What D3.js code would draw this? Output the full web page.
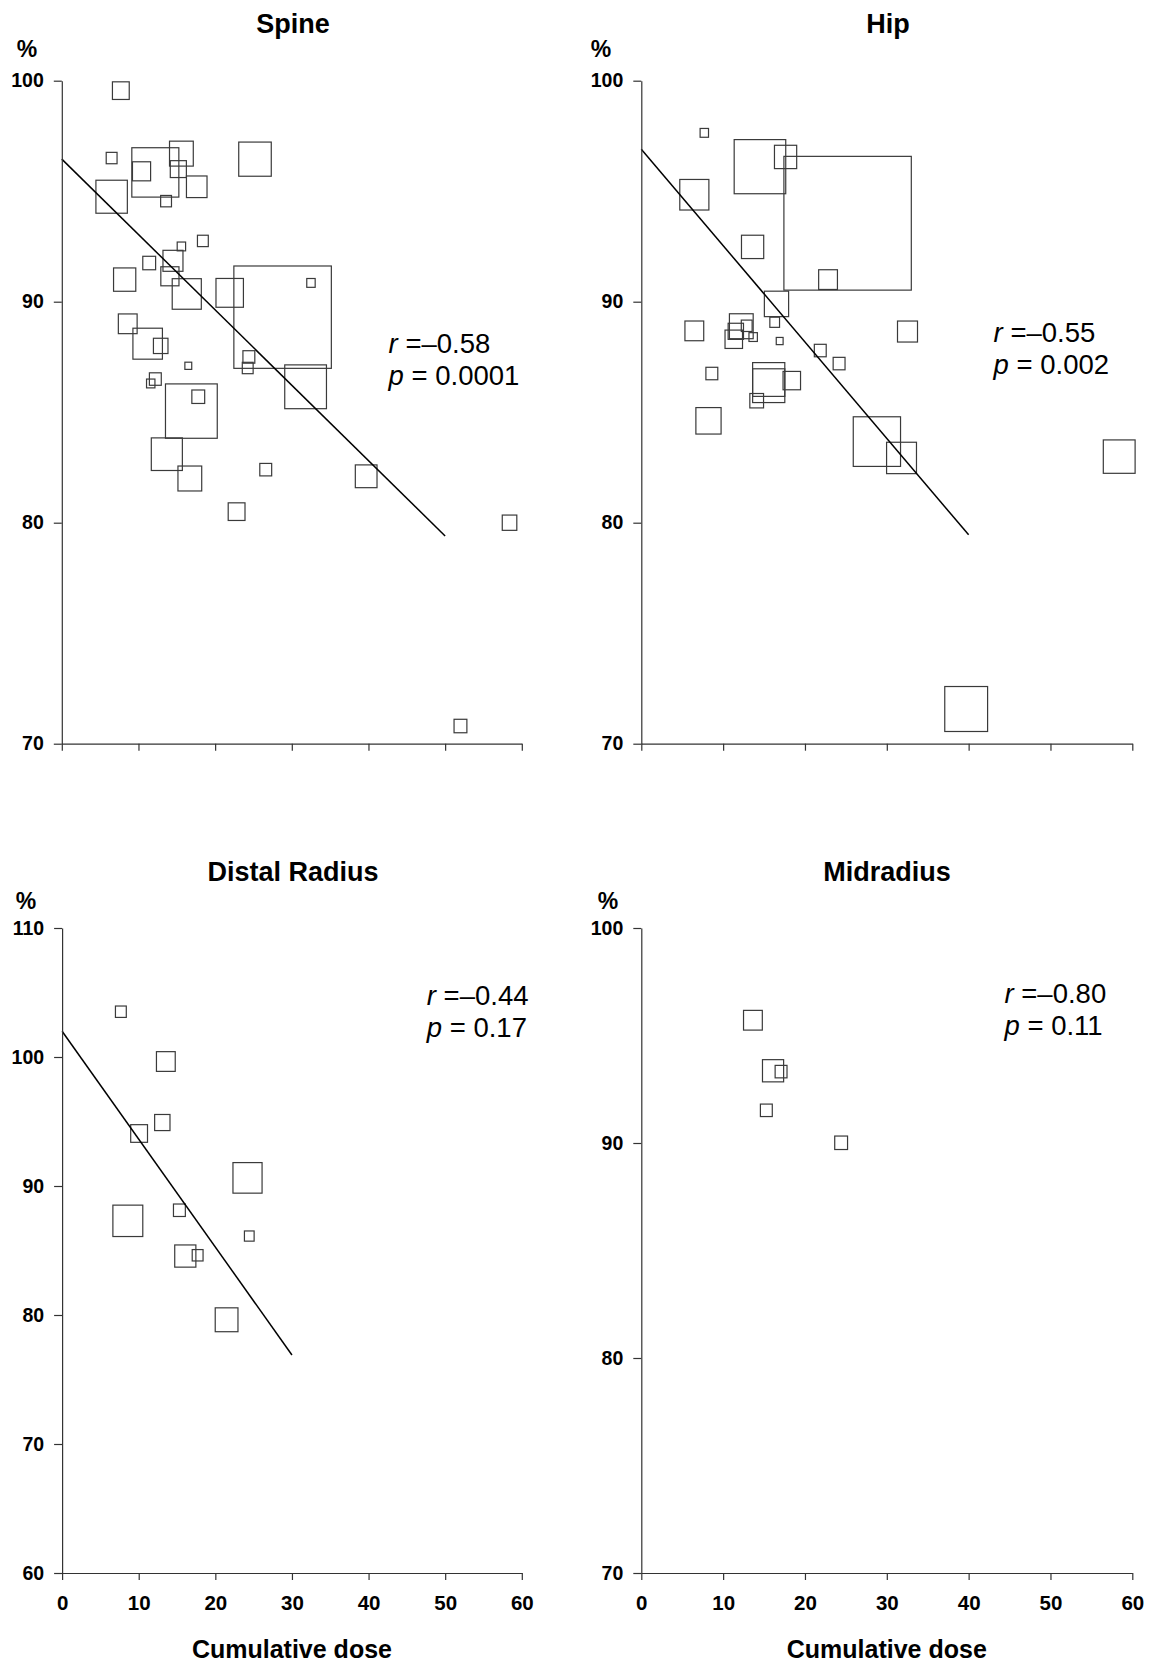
<!DOCTYPE html>
<html>
<head>
<meta charset="utf-8">
<script src="https://cdn.jsdelivr.net/npm/d3@7/dist/d3.min.js"></script>
<style>
  html, body { margin: 0; padding: 0; background: #fff; }
  svg { display: block; }
  text { font-family: "Liberation Sans", Arial, Helvetica, sans-serif; fill: #000; }
</style>
</head>
<body>
<svg id="chart" width="1149" height="1666"></svg>
<script>
// ---------------- DATA ----------------
const panelTitles = ["Spine", "Hip", "Distal Radius", "Midradius"];
const xTicks = [0, 10, 20, 30, 40, 50, 60];

// Spine
const spineDose = [7.7, 6.5, 12.2, 15.6, 10.4, 15.2, 17.6, 6.5, 13.6, 25.2,
  18.4, 15.6, 11.4, 14.5, 14.1, 8.2, 16.3, 21.9, 28.8, 32.5,
  8.6, 11.2, 12.9, 24.4, 24.25, 16.5, 12.2, 11.6, 16.9, 17.8,
  31.8, 13.7, 16.7, 26.6, 22.8, 39.7, 58.4, 52.0];
const spineBMD = [99.55, 96.5, 95.85, 96.7, 95.9, 96.0, 95.2, 94.75, 94.55, 96.45,
  92.75, 92.5, 91.75, 91.85, 91.15, 91.0, 90.35, 90.4, 89.3, 90.85,
  89.0, 88.1, 88.0, 87.5, 87.0, 87.1, 86.5, 86.3, 85.05, 85.7,
  86.15, 83.1, 82.0, 82.4, 80.5, 82.1, 80.0, 70.8];
const spineN = [12, 5, 94, 24, 14, 11, 18, 42, 5, 45,
  5, 3, 7, 17, 14, 21, 36, 32, 404, 3,
  15, 37, 9, 6, 5, 2, 6, 3, 114, 7,
  74, 41, 24, 6, 12, 20, 9, 7];
const spineYTicks = [70, 80, 90, 100];
const spineFit = [[0, 96.45], [50, 79.4]];
const spineStats = ["\u2013", "0.58", "0.0001"];

// Hip
const hipDose = [7.7, 14.5, 17.63, 25.21, 6.48, 13.6, 22.82, 16.52, 6.48, 12.22,
  11.55, 12.88, 11.3, 13.67, 16.3, 16.91, 32.53, 21.87, 24.17, 8.62,
  15.57, 15.57, 18.39, 14.1, 8.21, 28.79, 31.8, 58.4, 39.7];
const hipBMD = [97.64, 96.11, 96.55, 93.55, 94.84, 92.48, 91.0, 89.9, 88.68, 88.89,
  88.66, 88.91, 88.3, 88.4, 89.07, 88.22, 88.65, 87.79, 87.2, 86.75,
  86.48, 86.2, 86.43, 85.52, 84.61, 83.67, 82.93, 82.99, 71.57];
const hipN = [3, 113, 21, 690, 36, 21, 15, 25, 15, 24,
  10, 5, 13, 3, 4, 2, 17, 6, 6, 6,
  44, 44, 13, 8, 27, 95, 38, 43, 78];
const hipYTicks = [70, 80, 90, 100];
const hipFit = [[0, 96.9], [40, 79.45]];
const hipStats = ["\u2013", "0.55", "0.002"];

// Distal radius
const distalDose = [7.67, 13.54, 13.08, 10.05, 24.2, 8.58, 15.31, 24.43, 16.08, 17.69, 21.47];
const distalBMD = [103.51, 99.65, 94.92, 94.07, 90.63, 87.3, 88.12, 86.12, 84.57, 84.63, 79.63];
const distalN = [5, 15, 10, 12, 36, 38, 6, 4, 19, 5, 22];
const distalYTicks = [60, 70, 80, 90, 100, 110];
const distalFit = [[0, 102.0], [30, 76.9]];
const distalStats = ["\u2013", "0.44", "0.17"];

// Midradius
const midDose = [13.64, 16.1, 17.08, 15.28, 24.42];
const midBMD = [95.71, 93.36, 93.32, 91.52, 90.01];
const midN = [15, 19, 6, 6, 7];
const midYTicks = [70, 80, 90, 100];
const midFit = null;
const midStats = ["\u2013", "0.80", "0.11"];

// ---------------- LAYOUT ----------------
const svg = d3.select("#chart");
const sizeScale = d3.scaleSqrt().domain([0, 400]).range([0, 97]);

const panels = [
  { title: panelTitles[0], dose: spineDose, bmd: spineBMD, n: spineN, yTicks: spineYTicks, fit: spineFit, stats: spineStats,
    x0: 61.8, x1: 521.8, yTop: 80.7, yBot: 743.7, titleX: 293, titleY: 33, pctX: 27, pctY: 57,
    statX: 388.6, statY: 353.3, xLabels: false },
  { title: panelTitles[1], dose: hipDose, bmd: hipBMD, n: hipN, yTicks: hipYTicks, fit: hipFit, stats: hipStats,
    x0: 641.3, x1: 1132.3, yTop: 80.7, yBot: 743.7, titleX: 888, titleY: 33, pctX: 601, pctY: 57,
    statX: 993.6, statY: 341.7, xLabels: false },
  { title: panelTitles[2], dose: distalDose, bmd: distalBMD, n: distalN, yTicks: distalYTicks, fit: distalFit, stats: distalStats,
    x0: 62.1, x1: 521.8, yTop: 928, yBot: 1573, titleX: 293, titleY: 881, pctX: 26, pctY: 909,
    statX: 426.8, statY: 1005, xLabels: true },
  { title: panelTitles[3], dose: midDose, bmd: midBMD, n: midN, yTicks: midYTicks, fit: midFit, stats: midStats,
    x0: 641.3, x1: 1132.3, yTop: 928, yBot: 1573, titleX: 887, titleY: 881, pctX: 608, pctY: 909,
    statX: 1004.5, statY: 1003.3, xLabels: true }
];

panels.forEach(p => {
  const x = d3.scaleLinear().domain([0, 60]).range([p.x0, p.x1]);
  const y = d3.scaleLinear().domain(d3.extent(p.yTicks)).range([p.yBot, p.yTop]);
  const g = svg.append("g");

  // squares
  const pts = p.dose.map((d, i) => ({ x: d, y: p.bmd[i], n: p.n[i] }));
  g.append("g").selectAll("rect").data(pts).join("rect")
    .attr("x", d => x(d.x) - sizeScale(d.n) / 2)
    .attr("y", d => y(d.y) - sizeScale(d.n) * 1.05 / 2)
    .attr("width", d => sizeScale(d.n))
    .attr("height", d => sizeScale(d.n) * 1.05)
    .attr("fill", "none")
    .attr("stroke", "#3a3a3a")
    .attr("stroke-width", 1.2);

  // regression line
  if (p.fit) {
    g.append("path")
      .datum(p.fit)
      .attr("d", d3.line().x(d => x(d[0])).y(d => y(d[1])))
      .attr("fill", "none")
      .attr("stroke", "#000")
      .attr("stroke-width", 1.5);
  }

  // y axis
  const yAxis = g.append("g")
    .attr("transform", `translate(${p.x0},0)`)
    .call(d3.axisLeft(y).tickValues(p.yTicks).tickSize(8).tickSizeOuter(0).tickPadding(10).tickFormat(d3.format("d")));
  yAxis.selectAll("text").attr("font-size", 19.5).attr("font-weight", "bold")
    .attr("font-family", "'Liberation Sans', Arial, sans-serif").attr("fill", "#000");

  // x axis
  const xAxis = g.append("g")
    .attr("transform", `translate(0,${p.yBot})`)
    .call(d3.axisBottom(x).tickValues(xTicks).tickSize(7).tickSizeOuter(0).tickPadding(15)
      .tickFormat(p.xLabels ? d3.format("d") : () => ""));
  xAxis.selectAll("text").attr("font-size", 20.5).attr("font-weight", "bold")
    .attr("font-family", "'Liberation Sans', Arial, sans-serif").attr("fill", "#000");

  [yAxis, xAxis].forEach(a => {
    a.selectAll("path.domain").attr("stroke", "#333").attr("stroke-width", 1.2);
    a.selectAll(".tick line").attr("stroke", "#333").attr("stroke-width", 1.2);
  });

  // title
  g.append("text").attr("x", p.titleX).attr("y", p.titleY)
    .attr("text-anchor", "middle").attr("font-size", 27).attr("font-weight", "bold")
    .text(p.title);

  // % label
  g.append("text").attr("x", p.pctX).attr("y", p.pctY)
    .attr("text-anchor", "middle").attr("font-size", 23).attr("font-weight", "bold")
    .text("%");

  // stats
  const r = g.append("text").attr("x", p.statX).attr("y", p.statY).attr("font-size", 27.5);
  r.append("tspan").attr("font-style", "italic").text("r");
  r.append("tspan").text(" =" + p.stats[0] + p.stats[1]);
  const pp = g.append("text").attr("x", p.statX).attr("y", p.statY + 32).attr("font-size", 27.5);
  pp.append("tspan").attr("font-style", "italic").text("p");
  pp.append("tspan").text(" = " + p.stats[2]);

  if (p.xLabels) {
    g.append("text").attr("x", (p.x0 + p.x1) / 2).attr("y", 1658)
      .attr("text-anchor", "middle").attr("font-size", 25).attr("font-weight", "bold")
      .text("Cumulative dose");
  }
});
</script>
</body>
</html>
